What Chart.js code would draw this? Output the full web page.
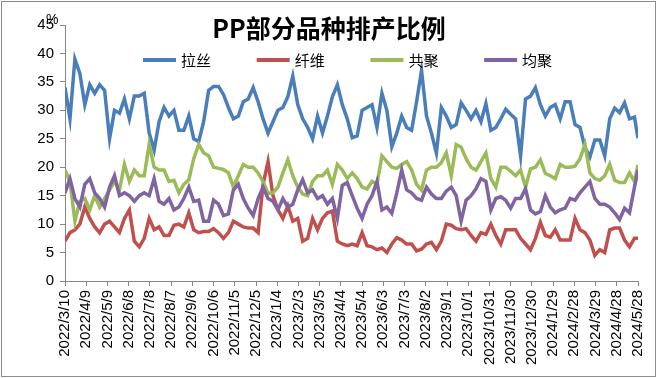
<!DOCTYPE html>
<html><head><meta charset="utf-8">
<script src="https://cdn.jsdelivr.net/npm/chart.js@4.4.1/dist/chart.umd.min.js"></script>
<style>html,body{margin:0;padding:0;background:#fff;}#wrap{width:660px;height:378px;}</style>
</head><body><div id="wrap"><canvas id="c" width="660" height="378"></canvas></div>
<script>
const titleText = 'PP部分品种排产比例';
const unitLabel = '%';
const seriesNames = ['拉丝', '纤维', '共聚', '均聚'];
const seriesColors = ['#4A7EBB', '#C0504D', '#9BBB59', '#8064A2'];
const tickLabels = ['2022/3/10','2022/4/9','2022/5/9','2022/6/8','2022/7/8','2022/8/7','2022/9/6','2022/10/6','2022/11/5','2022/12/5','2023/1/4','2023/2/3','2023/3/5','2023/4/4','2023/5/4','2023/6/3','2023/7/3','2023/8/2','2023/9/1','2023/10/1','2023/10/31','2023/11/30','2023/12/30','2024/1/29','2024/2/28','2024/3/29','2024/4/28','2024/5/28'];
// day offsets from 2022/3/10 (weekly samples, last = 2024/5/28)
const days = [0,7,14,21,28,35,42,49,56,63,70,77,84,91,98,105,112,119,126,133,140,147,154,161,168,175,182,189,196,203,210,217,224,231,238,245,252,259,266,273,280,287,294,301,308,315,322,329,336,343,350,357,364,371,378,385,392,399,406,413,420,427,434,441,448,455,462,469,476,483,490,497,504,511,518,525,532,539,546,553,560,567,574,581,588,595,602,609,616,623,630,637,644,651,658,665,672,679,686,693,700,707,714,721,728,735,742,749,756,763,770,777,784,791,798,805,810];

const lasi = [34,28.5,39,36.5,31,34.5,33,34.5,33.5,25,
30,29.5,32,28.5,32.5,32.5,33,26,23,28,
30.5,29,30,26.5,26.5,29,25,24.5,28,33.5,
34.2,34.2,32.8,30.5,28.5,29,31.5,32,34,31.5,
28.5,26,28,30,30.5,32.4,36,31,28.5,27,
25,29,26,29,32.4,34.5,31,28.5,25.2,25.5,
30,30.5,31,27,33,30,23.6,26,29,27,
26.5,31.5,37,29,26,22.5,30.5,29,27,27.5,
31.3,30,28.5,30,28,31.2,26.5,27,28.5,30.2,
29.3,28.5,22,32,32.5,34,31,29,30.5,31,
28.5,31.5,31.5,27.5,27,23.5,21.8,24.8,24.8,22,
28.5,30.4,29.6,31.3,28.5,28.8,25.1];

const xianwei = [7,8.5,9,10,13,11,9.5,8.5,10,10.5,
9.5,8.5,11,12.5,7,6,7.5,11,9,9.5,
8,8,9.8,10,9.5,12,9,8.5,8.7,8.7,
9.2,8.5,7.5,8.5,10.5,10,9.5,9.3,9.3,8.5,
17,21,15,12.5,11,13.2,10.5,11,7,7.5,
11,9,11,12,12.3,7,6.5,6.2,6.5,6.2,
8.5,6.2,6,5.5,5.8,5,6.5,7.6,7.2,6.5,
6.5,5.3,5.6,6.5,6.8,5.5,7,10,9.8,9.2,
9,9.2,8,7,8.5,8.2,10,8,6.5,9,
9,9,7.5,6.5,5.5,7.5,10.3,8,7.7,9,
7.2,7.2,7.2,11,9,8.5,7.2,4.5,5.5,5,
9,9.3,9.3,7.2,6,7.5,7.5];

const gongju = [19.5,17.5,10.5,14,14.5,12.5,15,13,14.5,16,
17.5,16,20.5,17.5,19.5,18.5,18.5,24,20,19.5,
19.5,17.5,17.7,15.5,17,17.8,21.5,24,22.5,22,
20,19.8,19.6,19,16.5,18.5,20.5,20,20,19,
17.5,15.4,15.5,16.5,19,21.3,18.5,16.5,15.3,15,
17.5,18.5,18.5,19.5,17,20.5,19.5,18,19,18,
16.5,16.2,17.5,17,22,21,20,19.8,20.5,21,
19.5,17,16,19.5,20,20,20.8,22.5,18.5,24,
23.5,21.5,20,19.5,21,22.5,18,16.5,20,20,
19.3,18.5,19.5,16.5,19.7,20,21.3,18.9,18.5,18,
20.5,20,20,20.2,21.5,24,19,18,17.7,18.5,
20.5,17.7,17.3,17.3,19,17.5,20.4];

const junju = [15.5,18,14.5,13,17,18,15.5,14.5,13,16.5,
18.5,15,15.5,15,14,15,15.5,15,18,14,
13.5,14.5,12.5,13,14.5,16.5,14,14.2,10.5,10.5,
14.2,13.5,11.5,11.8,16,17,14.5,12.8,11.5,14.5,
16.5,14.5,14,12.5,14.5,13,13.5,16,17.8,15.5,
16,14.5,15,13.5,14.5,11,16.8,17.3,15,12.8,
11,13.5,15,17.5,12.5,13,11.9,15.5,19.5,16,
15.5,14.5,14.2,16.5,15.3,14.5,14.5,15.8,16.5,15,
10.5,14.2,15,16.2,18,17.5,12.5,14.5,14.8,14.2,
12.8,14.5,14.5,16.2,12.5,11.8,12.2,15,13,12,
12.5,12.8,14.5,14.2,15.5,16.5,17.5,14.5,13.5,13.5,
13,12,10.8,12.8,12,16.5,19.5];

const seriesValues = [lasi, xianwei, gongju, junju];
const toPoints = (vals) => vals.map((v, i) => ({x: days[i], y: v}));

const AXIS_COLOR = '#868686';
const TICK_FONT = {family: "'Liberation Sans', Arial, sans-serif", size: 15};

const decorPlugin = {
  id: 'decor',
  beforeDraw(chart) {
    const ctx = chart.ctx;
    ctx.save();
    ctx.fillStyle = '#ffffff';
    ctx.fillRect(0, 0, chart.width, chart.height);
    ctx.strokeStyle = '#8c8c8c';
    ctx.lineWidth = 1;
    ctx.strokeRect(1.5, 1.5, 654, 375);
    ctx.restore();
  },
  afterDraw(chart) {
    const ctx = chart.ctx;
    ctx.save();
    ctx.fillStyle = '#000';
    ctx.textAlign = 'center';
    ctx.textBaseline = 'middle';
    ctx.font = "bold 25px 'Noto Sans CJK SC', sans-serif";
    ctx.fillText(titleText, 329, 28);
    ctx.textAlign = 'left';
    ctx.font = "14px 'Liberation Sans', Arial, sans-serif";
    ctx.fillText(unitLabel, 46, 20);
    ctx.font = "15px 'Noto Sans CJK SC', sans-serif";
    chart.data.datasets.forEach((ds, i) => {
      const x0 = 143 + i * 113.7;
      ctx.strokeStyle = ds.borderColor;
      ctx.lineWidth = 4;
      ctx.beginPath();
      ctx.moveTo(x0, 60);
      ctx.lineTo(x0 + 33, 60);
      ctx.stroke();
      ctx.fillStyle = '#000';
      ctx.fillText(ds.label, x0 + 38, 60);
    });
    ctx.restore();
  }
};

new Chart(document.getElementById('c'), {
  type: 'line',
  data: {
    datasets: seriesNames.map((name, i) => ({
      label: name,
      data: toPoints(seriesValues[i]),
      borderColor: seriesColors[i],
      backgroundColor: seriesColors[i],
      borderWidth: 3.5,
      pointRadius: 0,
      tension: 0,
      fill: false,
      order: 3 - i
    }))
  },
  options: {
    responsive: false,
    devicePixelRatio: 1,
    animation: false,
    layout: {padding: {left: 0, right: 21, top: 25, bottom: 0}},
    plugins: {legend: {display: false}, title: {display: false}, tooltip: {enabled: false}},
    scales: {
      x: {
        type: 'linear',
        min: 0, max: 810,
        afterFit(s) { s.height = 97; },
        grid: {display: true, drawOnChartArea: false, drawTicks: true, tickLength: 5, color: AXIS_COLOR},
        border: {display: true, color: AXIS_COLOR, width: 1},
        ticks: {
          stepSize: 30, autoSkip: false, maxRotation: 90, minRotation: 90,
          padding: 4, color: '#000', font: TICK_FONT,
          callback: (v) => tickLabels[Math.round(v / 30)]
        }
      },
      y: {
        min: 0, max: 45,
        afterFit(s) { s.width = 65; },
        grid: {display: true, drawOnChartArea: false, drawTicks: true, tickLength: 5, color: AXIS_COLOR},
        border: {display: true, color: AXIS_COLOR, width: 1},
        ticks: {stepSize: 5, padding: 6, color: '#000', font: TICK_FONT}
      }
    }
  },
  plugins: [decorPlugin]
});
</script></body></html>
